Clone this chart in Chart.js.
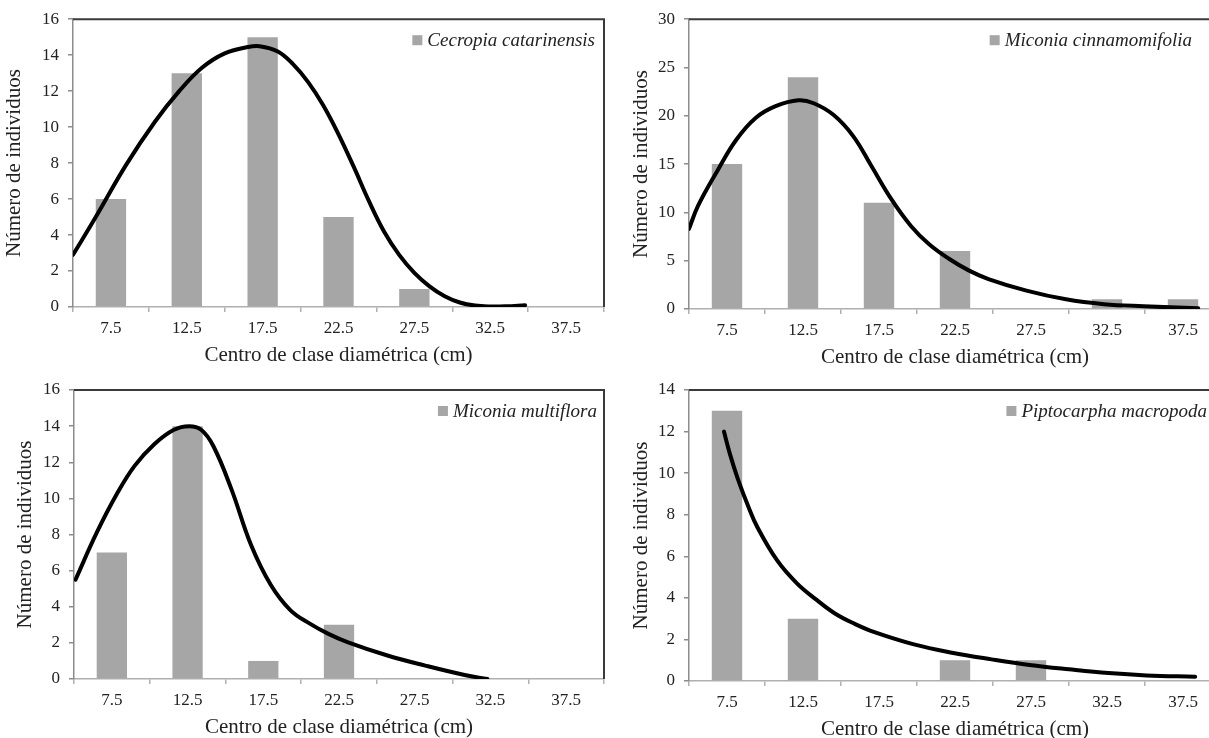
<!DOCTYPE html>
<html>
<head>
<meta charset="utf-8">
<script src="https://cdn.jsdelivr.net/npm/chart.js@4.4.0/dist/chart.umd.min.js"></script>
<style>
  html, body { margin: 0; padding: 0; background: #fff; overflow: hidden; width: 1209px; height: 738px; }
  canvas { position: absolute; }
</style>
</head>
<body>
<canvas id="c1" width="610" height="369" style="left:0px;top:0px"></canvas>
<canvas id="c2" width="620" height="371" style="left:610px;top:0px"></canvas>
<canvas id="c3" width="610" height="372" style="left:0px;top:369px"></canvas>
<canvas id="c4" width="620" height="374" style="left:610px;top:369px"></canvas>
<script>
// diameter class centres (cm) - same for the 4 species
let classLabels = ['7.5', '12.5', '17.5', '22.5', '27.5', '32.5', '37.5'];

// number of individuals per class
let cecropiaBars = [6, 13, 15, 5, 1, 0, 0];
let cinnamomifoliaBars = [15, 24, 11, 6, 0, 1, 1];
let multifloraBars = [7, 14, 1, 3, 0, 0, 0];
let piptocarphaBars = [13, 3, 0, 1, 1, 0, 0];

// fitted curves (x in cm)
let cecropiaCurveX = [5, 6.5, 8.5, 10.4, 12, 13.5, 15, 16.5, 17.3, 18.5, 19.5, 20.5, 21.5, 22.5, 23.5, 24.5, 25.5, 26.5, 27.5, 28.5, 29.5, 30.5, 31.5, 32.5, 33.5, 34.8];
let cecropiaCurveY = [2.9, 5.0, 7.9, 10.3, 12, 13.3, 14.1, 14.45, 14.5, 14.2, 13.5, 12.5, 11.2, 9.6, 7.8, 5.9, 4.2, 2.9, 1.9, 1.15, 0.6, 0.25, 0.08, 0.03, 0.04, 0.1];

let cinnamomifoliaCurveX = [5, 5.6, 6.9, 8.1, 9.4, 10.7, 12.2, 13.2, 14.5, 15.8, 17, 18.3, 19.6, 20.8, 22.1, 23.4, 24.7, 27.2, 29.8, 32.3, 34.9, 38.5];
let cinnamomifoliaCurveY = [8.3, 10.7, 14.4, 17.5, 19.8, 21, 21.6, 21.3, 20.1, 17.9, 14.8, 11.4, 8.6, 6.7, 5.2, 4, 3.1, 1.9, 1, 0.5, 0.28, 0.07];

let multifloraCurveX = [5.1, 6.5, 7.8, 9, 10.3, 11.6, 12.6, 13.4, 14.2, 15.4, 16.7, 18, 19.3, 20.6, 21.8, 23.1, 25.7, 28.2, 30.8, 32.3];
let multifloraCurveY = [5.5, 8.1, 10.2, 11.8, 13, 13.8, 14, 13.8, 12.9, 10.5, 7.4, 5.2, 3.8, 3.05, 2.5, 2.03, 1.3, 0.74, 0.22, 0];

let piptocarphaCurveX = [7.3, 7.7, 8.2, 8.9, 9.5, 10.8, 12.1, 13.4, 14.6, 15.9, 17.2, 19.8, 22.3, 24.9, 27.4, 30, 32.6, 35.1, 38.3];
let piptocarphaCurveY = [12, 10.9, 9.75, 8.4, 7.4, 5.8, 4.7, 3.9, 3.25, 2.75, 2.35, 1.76, 1.36, 1.04, 0.77, 0.56, 0.38, 0.27, 0.21];

// y axis ranges
let yMaxList = [16, 30, 16, 14];
let yStepList = [2, 5, 2, 2];

let fontFam = "'Liberation Serif', 'Times New Roman', serif";

// top + right border of the plot area (excel style)
let frameLines = {
  id: 'frameLines',
  afterDraw(chart) {
    let a = chart.chartArea;
    let ctx = chart.ctx;
    ctx.save();
    ctx.strokeStyle = '#3a3a3a';
    ctx.lineWidth = 2;
    ctx.beginPath();
    ctx.moveTo(a.left, a.top);
    ctx.lineTo(a.right, a.top);
    ctx.lineTo(a.right, a.bottom);
    ctx.stroke();
    ctx.restore();
  }
};

// legend sits inside the plot, top right, only the bar series
let insideLegend = {
  id: 'insideLegend',
  afterDraw(chart, args, opts) {
    let a = chart.chartArea;
    let ds = chart.data.datasets[0];
    let ctx = chart.ctx;
    ctx.save();
    ctx.font = 'italic 19px ' + fontFam;
    ctx.textBaseline = 'middle';
    ctx.textAlign = 'right';
    let tx = a.right - opts.right;
    let ty = a.top + 22;
    ctx.fillStyle = '#222';
    ctx.fillText(ds.label, tx, ty);
    let w = ctx.measureText(ds.label).width;
    ctx.fillStyle = ds.backgroundColor;
    ctx.fillRect(tx - w - 15, ty - 6, 10, 10);
    ctx.restore();
  }
};

function makeChart(canvasId, name, bars, curveX, curveY, yMax, yStep, box) {
  let curvePoints = [];
  for (let i = 0; i < curveX.length; i++) {
    curvePoints.push({ x: curveX[i], y: curveY[i] });
  }

  const config = {
    type: 'bar',
    data: {
      labels: classLabels,
      datasets: [{
        label: name,
        data: bars,
        backgroundColor: '#a6a6a6',
        barPercentage: 0.4,
        categoryPercentage: 1,
        grouped: false,
        order: 2
      }, {
        type: 'line',
        label: 'ajuste',
        data: curvePoints,
        xAxisID: 'xl',
        borderColor: '#000',
        borderWidth: 4,
        pointRadius: 0,
        fill: false,
        tension: 0.4,
        borderCapStyle: 'round',
        order: 1
      }]
    },
    options: {
      responsive: false,
      animation: false,
      layout: { padding: { top: box.top, right: box.right, left: 0, bottom: 0 } },
      plugins: {
        tooltip: { enabled: false },
        legend: { display: false },
        insideLegend: { right: box.legendRight }
      },
      scales: {
        x: {
          type: 'category',
          grid: { drawOnChartArea: false, tickLength: 5, color: '#b0b0b0', lineWidth: 1.5, offset: true },
          border: { color: '#b0b0b0', width: 1.5 },
          ticks: { color: '#222', padding: 6, maxRotation: 0, autoSkip: false, font: { family: fontFam, size: 17 } },
          title: {
            display: true,
            text: 'Centro de clase diamétrica (cm)',
            color: '#222',
            font: { family: fontFam, size: 21 },
            padding: { top: 0, bottom: 1 }
          },
          afterFit: function (s) { s.height = 62; }
        },
        // hidden linear axis for the fitted curve, 5..40 cm = edges of the classes
        xl: { type: 'linear', display: false, offset: false, min: 5, max: 40 },
        y: {
          min: 0,
          max: yMax,
          grid: { drawOnChartArea: false, tickLength: 5, color: '#8c8c8c', lineWidth: 1.5 },
          border: { color: '#8c8c8c', width: 1.5 },
          ticks: { stepSize: yStep, color: '#222', padding: 9, font: { family: fontFam, size: 17 } },
          title: {
            display: true,
            text: 'Número de individuos',
            color: '#222',
            font: { family: fontFam, size: 21 },
            padding: { top: box.titlePad, bottom: 0 }
          },
          afterFit: function (s) { s.width = box.axisW; }
        }
      }
    },
    plugins: [frameLines, insideLegend]
  };
  new Chart(document.getElementById(canvasId), config);
}

makeChart('c1', 'Cecropia catarinensis', cecropiaBars, cecropiaCurveX, cecropiaCurveY, yMaxList[0], yStepList[0],
  { axisW: 73, top: 16, right: 6, titlePad: 2, legendRight: 9 });
makeChart('c2', 'Miconia cinnamomifolia', cinnamomifoliaBars, cinnamomifoliaCurveX, cinnamomifoliaCurveY, yMaxList[1], yStepList[1],
  { axisW: 79, top: 19, right: 9, titlePad: 19, legendRight: 29 });
makeChart('c3', 'Miconia multiflora', multifloraBars, multifloraCurveX, multifloraCurveY, yMaxList[2], yStepList[2],
  { axisW: 74, top: 21, right: 6, titlePad: 13, legendRight: 7 });
makeChart('c4', 'Piptocarpha macropoda', piptocarphaBars, piptocarphaCurveX, piptocarphaCurveY, yMaxList[3], yStepList[3],
  { axisW: 79, top: 21, right: 9, titlePad: 19, legendRight: 14 });
</script>
</body>
</html>
